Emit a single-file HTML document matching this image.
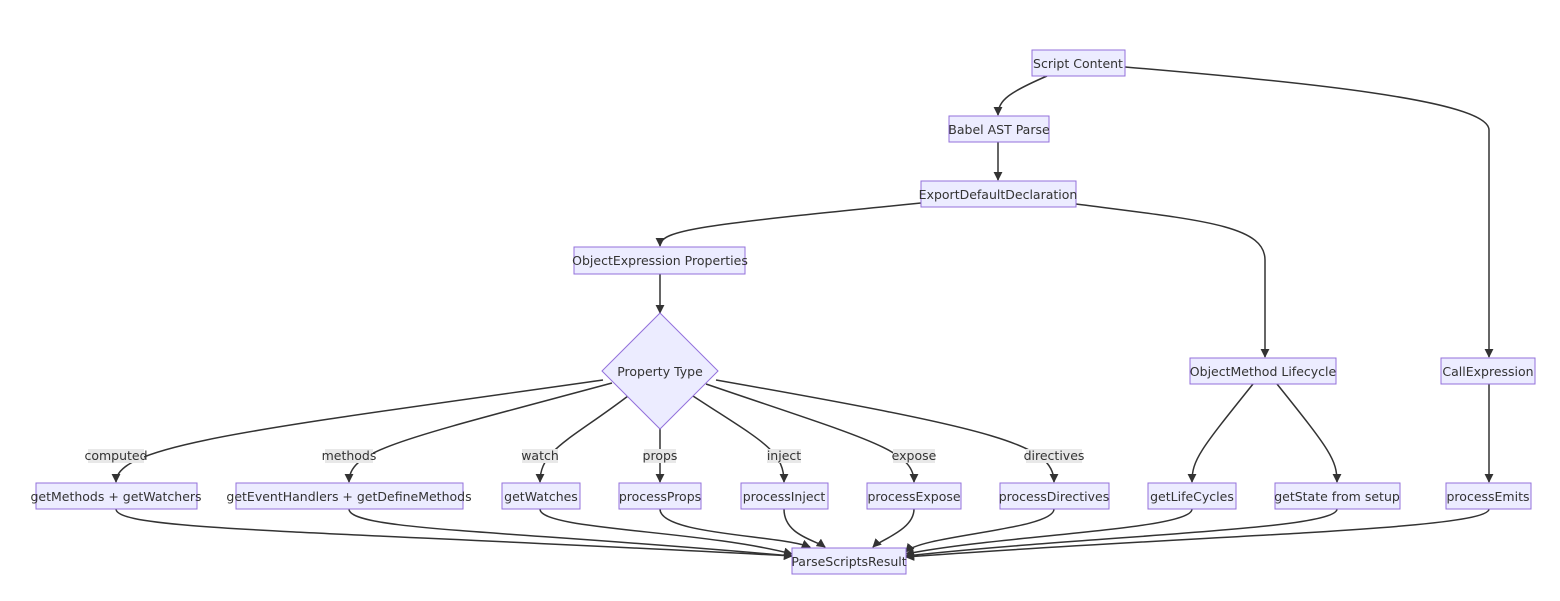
<!DOCTYPE html>
<html><head><meta charset="utf-8"><style>
body{margin:0;background:#fff}
svg text{font-family:"DejaVu Sans","Liberation Sans",sans-serif;font-size:12.5px;fill:#333}
.n{fill:#ECECFF;stroke:#9370DB;stroke-width:1}
.e{fill:none;stroke:#333;stroke-width:1.5}
.lb{fill:#e8e8e8}
</style></head><body>
<svg width="1560" height="596" viewBox="0 0 1560 596" xmlns="http://www.w3.org/2000/svg">
<defs><marker id="a" viewBox="0 0 10 10" refX="9" refY="5" markerWidth="6" markerHeight="6" orient="auto"><path d="M0,0L10,5L0,10z" fill="#333"/></marker></defs>
<g class="e">
<path d="M1047,76 C1010,92 998,100 998,115" marker-end="url(#a)"/>
<path d="M1125,67 C1300,82 1489,100 1489,130 L1489,357" marker-end="url(#a)"/>
<path d="M998,142 L998,180" marker-end="url(#a)"/>
<path d="M921,203 C700,225 660,230 660,246" marker-end="url(#a)"/>
<path d="M1076,204 C1200,220 1265,225 1265,260 L1265,357" marker-end="url(#a)"/>
<path d="M660,274 L660,313" marker-end="url(#a)"/>
<path d="M603,380 C250,430 116,445 116,482" marker-end="url(#a)"/>
<path d="M612,383 C400,440 349,450 349,482" marker-end="url(#a)"/>
<path d="M628,396 C570,440 540,450 540,482" marker-end="url(#a)"/>
<path d="M660,428 L660,482" marker-end="url(#a)"/>
<path d="M693,396 C760,440 784,450 784,482" marker-end="url(#a)"/>
<path d="M706,384 C870,440 914,450 914,482" marker-end="url(#a)"/>
<path d="M716,380 C1000,430 1054,445 1054,482" marker-end="url(#a)"/>
<path d="M1253,384 C1200,450 1192,460 1192,482" marker-end="url(#a)"/>
<path d="M1277,384 C1330,450 1337,460 1337,482" marker-end="url(#a)"/>
<path d="M1489,384 L1489,482" marker-end="url(#a)"/>
<path d="M116,509 C116,530 300,530 792,556" marker-end="url(#a)"/>
<path d="M349,509 C349,530 500,530 792,556" marker-end="url(#a)"/>
<path d="M540,509 C540,530 700,530 792,554" marker-end="url(#a)"/>
<path d="M660,509 C660,535 780,535 810,547" marker-end="url(#a)"/>
<path d="M784,509 C784,535 815,540 825,547" marker-end="url(#a)"/>
<path d="M914,509 C914,530 880,540 873,547" marker-end="url(#a)"/>
<path d="M1054,509 C1054,530 920,535 906,552" marker-end="url(#a)"/>
<path d="M1192,509 C1192,530 1000,535 906,554" marker-end="url(#a)"/>
<path d="M1337,509 C1337,530 1100,535 906,556" marker-end="url(#a)"/>
<path d="M1489,509 C1489,530 1200,535 906,557" marker-end="url(#a)"/>
</g>
<g>
<rect class="n" x="1032" y="50" width="93" height="26"/><text x="1078" y="68" text-anchor="middle">Script Content</text>
<rect class="n" x="949" y="116" width="100" height="26"/><text x="999" y="134" text-anchor="middle">Babel AST Parse</text>
<rect class="n" x="921" y="181" width="155" height="26"/><text x="998" y="199" text-anchor="middle">ExportDefaultDeclaration</text>
<rect class="n" x="574" y="247" width="171" height="27"/><text x="660" y="265" text-anchor="middle">ObjectExpression Properties</text>
<polygon class="n" points="660,313 718,371 660,429 602,371"/><text x="660" y="376" text-anchor="middle">Property Type</text>
<rect class="n" x="1190" y="358" width="146" height="26"/><text x="1263" y="376" text-anchor="middle">ObjectMethod Lifecycle</text>
<rect class="n" x="1441" y="358" width="94" height="26"/><text x="1488" y="376" text-anchor="middle">CallExpression</text>
<rect class="n" x="36" y="483" width="161" height="26"/><text x="116" y="501" text-anchor="middle">getMethods + getWatchers</text>
<rect class="n" x="236" y="483" width="227" height="26"/><text x="349" y="501" text-anchor="middle">getEventHandlers + getDefineMethods</text>
<rect class="n" x="502" y="483" width="78" height="26"/><text x="541" y="501" text-anchor="middle">getWatches</text>
<rect class="n" x="619" y="483" width="82" height="26"/><text x="660" y="501" text-anchor="middle">processProps</text>
<rect class="n" x="741" y="483" width="87" height="26"/><text x="784" y="501" text-anchor="middle">processInject</text>
<rect class="n" x="867" y="483" width="94" height="26"/><text x="914" y="501" text-anchor="middle">processExpose</text>
<rect class="n" x="1000" y="483" width="109" height="26"/><text x="1054" y="501" text-anchor="middle">processDirectives</text>
<rect class="n" x="1148" y="483" width="88" height="26"/><text x="1192" y="501" text-anchor="middle">getLifeCycles</text>
<rect class="n" x="1275" y="483" width="125" height="26"/><text x="1337" y="501" text-anchor="middle">getState from setup</text>
<rect class="n" x="1446" y="483" width="85" height="26"/><text x="1488" y="501" text-anchor="middle">processEmits</text>
<rect class="n" x="792" y="548" width="114" height="26"/><text x="849" y="566" text-anchor="middle">ParseScriptsResult</text>
</g>
<g>
<rect class="lb" x="88" y="449" width="56" height="14"/><text x="116" y="460" text-anchor="middle">computed</text>
<rect class="lb" x="325" y="449" width="48" height="14"/><text x="349" y="460" text-anchor="middle">methods</text>
<rect class="lb" x="522" y="449" width="36" height="14"/><text x="540" y="460" text-anchor="middle">watch</text>
<rect class="lb" x="644" y="449" width="32" height="14"/><text x="660" y="460" text-anchor="middle">props</text>
<rect class="lb" x="767" y="449" width="34" height="14"/><text x="784" y="460" text-anchor="middle">inject</text>
<rect class="lb" x="893" y="449" width="42" height="14"/><text x="914" y="460" text-anchor="middle">expose</text>
<rect class="lb" x="1026" y="449" width="56" height="14"/><text x="1054" y="460" text-anchor="middle">directives</text>
</g>
</svg>
</body></html>
